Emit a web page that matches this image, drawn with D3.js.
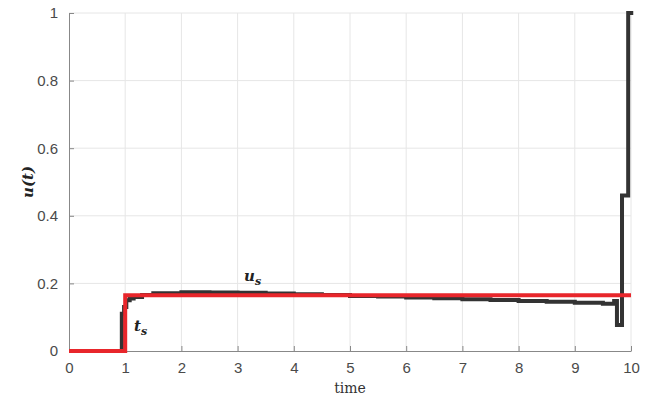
<!DOCTYPE html>
<meta charset="utf-8">
<style>
body { margin: 0; background: #fff; }
svg { display: block; }
.tick text { font-family: "Liberation Sans", Arial, sans-serif; font-size: 15px; fill: #4a4a4a; }
.grid line { stroke: #e6e6e6; stroke-width: 1px; }
.mathlbl { font-family: "DejaVu Serif", serif; font-style: italic; font-weight: bold; fill: #222; }
</style>
<body>
<script src="https://cdn.jsdelivr.net/npm/d3@7/dist/d3.min.js"></script>
<script>

// black control: step values (u starts at time t)
var tBlack = [0, 0.94, 0.98, 1.02, 1.08, 1.15, 1.3, 1.5, 2, 2.5, 3, 3.5, 4, 4.5, 5, 5.5, 6, 6.5, 7, 7.5, 8, 8.5, 9, 9.5, 9.7, 9.75, 9.84, 9.95, 10.04];
var uBlack = [0, 0.11, 0.13, 0.15, 0.155, 0.16, 0.166, 0.171, 0.174, 0.173, 0.172, 0.17, 0.168, 0.166, 0.163, 0.161, 0.158, 0.156, 0.153, 0.151, 0.148, 0.146, 0.143, 0.14, 0.148, 0.077, 0.46, 1.0, 1.0];

// red control: zero until t_s, then constant u_s
var tRed = [0, 1, 10];
var uRed = [0, 0.165, 0.165];

var xTicks = [0, 1, 2, 3, 4, 5, 6, 7, 8, 9, 10];
var yTicks = [0, 0.2, 0.4, 0.6, 0.8, 1];

var width = 653, height = 398;
var x = d3.scaleLinear().domain([0, 10]).range([69, 631]);
var y = d3.scaleLinear().domain([0, 1]).range([351, 13]);

var svg = d3.select("body").append("svg")
    .attr("width", width)
    .attr("height", height);

// grid
var grid = svg.append("g").attr("class", "grid");
grid.selectAll("line.v").data(xTicks.slice(1)).enter().append("line")
    .attr("x1", x).attr("x2", x)
    .attr("y1", y(0)).attr("y2", y(1));
grid.selectAll("line.h").data(yTicks.slice(1)).enter().append("line")
    .attr("x1", x(0)).attr("x2", x(10))
    .attr("y1", y).attr("y2", y);

// axes (ticks pointing inward)
var xAxis = svg.append("g")
    .attr("transform", "translate(0," + y(0) + ")")
    .call(d3.axisBottom(x).tickValues(xTicks).tickSizeInner(-5).tickSizeOuter(0).tickPadding(11));
var yAxis = svg.append("g")
    .attr("transform", "translate(" + x(0) + ",0)")
    .call(d3.axisLeft(y).tickValues(yTicks).tickSizeInner(-5).tickSizeOuter(0).tickPadding(11)
        .tickFormat(function(d) { return d3.format("")(d); }));
[xAxis, yAxis].forEach(function(a) {
  a.select(".domain").attr("stroke", "#888");
  a.selectAll(".tick line").attr("stroke", "#888");
});

var line = d3.line()
    .x(function(d) { return x(d[0]); })
    .y(function(d) { return y(d[1]); })
    .curve(d3.curveStepAfter);

svg.append("path")
    .datum(tBlack.map(function(t, i) { return [t, uBlack[i]]; }))
    .attr("d", line)
    .attr("fill", "none")
    .attr("stroke", "#333")
    .attr("stroke-width", 4)
    .attr("stroke-linejoin", "miter");

svg.append("path")
    .datum(tRed.map(function(t, i) { return [t, uRed[i]]; }))
    .attr("d", line)
    .attr("fill", "none")
    .attr("stroke", "#e8262b")
    .attr("stroke-width", 4);

// annotations
var us = svg.append("text").attr("class", "mathlbl")
    .attr("x", 244).attr("y", 281).style("font-size", "15px");
us.append("tspan").text("u");
us.append("tspan").attr("dy", 4).style("font-size", "11px").text("s");

var ts = svg.append("text").attr("class", "mathlbl")
    .attr("x", 134).attr("y", 331).style("font-size", "15px");
ts.append("tspan").text("t");
ts.append("tspan").attr("dy", 4).style("font-size", "11px").text("s");

svg.append("text")
    .attr("transform", "translate(33," + y(0.5) + ") rotate(-90)")
    .attr("text-anchor", "middle")
    .attr("class", "mathlbl")
    .style("font-size", "15px")
    .text("u(t)");

svg.append("text")
    .attr("x", x(5)).attr("y", 393)
    .attr("text-anchor", "middle")
    .style("font-family", "DejaVu Serif, serif")
    .style("font-size", "14px")
    .style("fill", "#333")
    .text("time");
</script>
</body>
